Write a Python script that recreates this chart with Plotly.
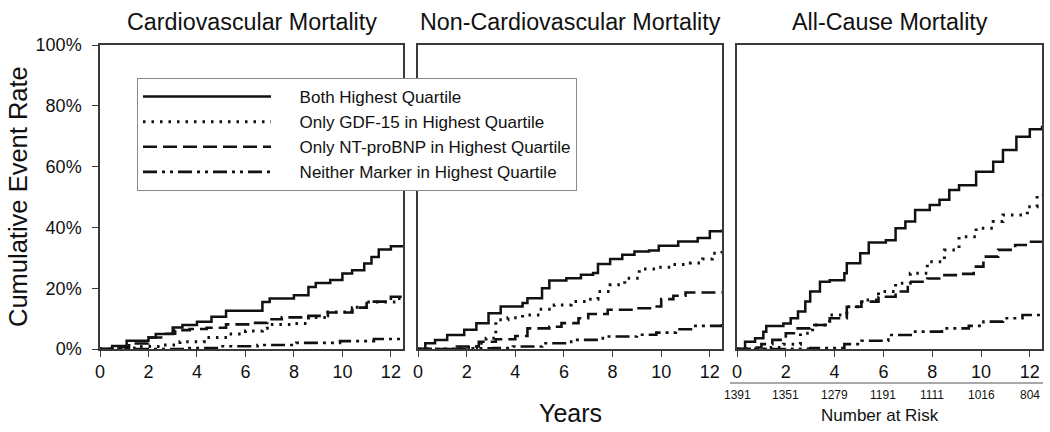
import plotly.graph_objects as go

# ---------------- data ----------------
series_names = ["Both Highest Quartile", "Only GDF-15 in Highest Quartile",
                "Only NT-proBNP in Highest Quartile", "Neither Marker in Highest Quartile"]
panel_titles = ["Cardiovascular Mortality", "Non-Cardiovascular Mortality", "All-Cause Mortality"]

# Panel 1: Cardiovascular mortality (years, cumulative %)
cv_both_t = [0, 0.5, 1.1, 2.0, 2.3, 3.0, 3.4, 4.0, 4.6, 5.2, 6.7, 7.0, 8.0, 8.6, 8.9, 9.5, 10.0, 10.4, 10.9, 11.2, 11.5, 12.0, 12.5]
cv_both_v = [0, 1.0, 2.7, 3.8, 4.9, 7.1, 7.9, 9.0, 10.6, 12.6, 15.5, 16.6, 17.7, 20.4, 21.7, 22.7, 24.8, 25.9, 28.1, 30.3, 32.7, 33.8, 33.8]
cv_gdf_t = [0, 0.8, 1.5, 2.5, 3.3, 4.3, 5.3, 6.0, 6.7, 6.9, 8.0, 8.6, 9.4, 10.4, 11.0, 12.2, 12.45, 12.5]
cv_gdf_v = [0, 0.3, 0.8, 1.3, 2.4, 3.8, 4.9, 5.9, 6.8, 8.1, 8.4, 10.4, 12.2, 13.7, 15.5, 16.6, 17.4, 17.4]
cv_nt_t = [0, 0.6, 1.2, 2.0, 2.6, 3.1, 3.7, 4.4, 5.2, 6.4, 6.9, 7.5, 8.6, 9.4, 10.4, 11.0, 12.0, 12.5]
cv_nt_v = [0, 0.6, 1.8, 3.8, 5.0, 6.2, 6.6, 7.0, 8.1, 8.6, 9.8, 10.4, 10.9, 12.0, 13.6, 15.6, 17.2, 17.5]
cv_nei_t = [0, 3.5, 5.0, 6.5, 8.1, 9.9, 11.3, 12.5]
cv_nei_v = [0, 0.3, 0.9, 1.3, 2.0, 2.6, 3.3, 3.5]

# Panel 2: Non-cardiovascular mortality
ncv_both_t = [0, 0.3, 0.7, 1.2, 1.9, 2.4, 2.9, 3.4, 4.3, 4.5, 5.1, 5.4, 6.1, 6.7, 7.2, 7.4, 7.9, 8.4, 8.9, 9.5, 9.9, 10.7, 11.5, 12.0, 12.5]
ncv_both_v = [0, 1.9, 3.0, 4.6, 6.3, 8.5, 11.8, 14.0, 15.1, 16.7, 20.0, 22.5, 23.3, 24.4, 25.0, 28.0, 29.6, 31.0, 32.1, 32.4, 34.0, 35.4, 36.5, 38.7, 39.3]
ncv_gdf_t = [0, 1.5, 2.4, 2.8, 3.2, 3.7, 4.3, 5.0, 5.6, 6.3, 6.9, 7.4, 7.9, 8.5, 9.1, 9.8, 10.4, 11.2, 11.7, 12.1, 12.5]
ncv_gdf_v = [0, 0.5, 1.9, 3.5, 9.6, 10.3, 11.2, 13.1, 14.5, 15.6, 16.4, 18.9, 21.1, 23.3, 26.3, 26.9, 27.8, 28.3, 29.6, 31.5, 33.2]
ncv_nt_t = [0, 1.5, 2.5, 3.2, 4.0, 4.5, 5.4, 5.9, 6.6, 7.0, 7.8, 8.9, 9.7, 10.0, 10.5, 11.0, 12.5]
ncv_nt_v = [0, 0.8, 2.4, 3.2, 4.3, 6.8, 7.3, 8.5, 10.1, 11.5, 12.9, 13.4, 14.0, 16.4, 17.5, 18.6, 18.6]
ncv_nei_t = [0, 2.0, 3.1, 3.9, 5.1, 6.3, 7.6, 9.0, 9.8, 10.6, 11.4, 12.5]
ncv_nei_v = [0, 0.2, 0.3, 0.8, 1.9, 3.0, 4.1, 4.7, 5.4, 6.5, 7.6, 8.5]

# Panel 3: All-cause mortality
all_both_t = [0, 0.33, 0.74, 1.08, 1.2, 1.9, 2.2, 2.5, 2.8, 3.0, 3.4, 3.8, 4.4, 4.5, 5.05, 5.4, 6.1, 6.5, 6.9, 7.3,
              7.9, 8.3, 8.7, 9.1, 9.8, 10.5, 10.9, 11.45, 12.0, 12.5]
all_both_v = [0, 2.4, 3.5, 5.7, 7.6, 8.4, 10.1, 12.3, 15.6, 18.9, 22.1, 22.6, 24.9, 28.2, 31.5, 35.0, 35.8, 39.7, 41.9, 45.7,
              47.4, 49.1, 52.3, 53.9, 58.3, 61.6, 65.5, 69.8, 72.3, 73.4]
all_gdf_t = [0, 1.4, 1.9, 2.6, 3.1, 3.8, 4.5, 5.1, 5.8, 6.5, 7.1, 7.8, 8.5, 9.1, 9.8, 10.5, 10.9, 11.9, 12.3, 12.5]
all_gdf_v = [0, 0.5, 1.6, 5.2, 7.9, 11.2, 13.9, 16.1, 18.9, 21.6, 24.9, 28.7, 32.6, 36.9, 39.7, 41.9, 44.1, 46.8, 50.7, 50.7]
all_nt_t = [0, 0.7, 1.0, 1.45, 2.0, 2.4, 3.0, 3.8, 4.5, 5.1, 5.8, 6.5, 7.0, 7.8, 8.5, 9.1, 9.7, 10.1, 10.7, 11.4, 11.9, 12.5]
all_nt_v = [0, 0.5, 1.6, 3.0, 5.2, 6.8, 7.9, 10.1, 13.9, 15.6, 17.2, 18.9, 22.1, 23.2, 24.3, 24.7, 27.1, 30.4, 32.6, 34.2, 35.3, 35.3]
all_nei_t = [0, 2.0, 3.0, 4.4, 5.1, 6.2, 7.3, 8.4, 9.5, 10.1, 10.9, 11.7, 12.5]
all_nei_v = [0, 0.1, 0.3, 1.6, 2.7, 4.6, 5.7, 6.8, 7.6, 9.0, 10.1, 11.2, 11.9]

# Number at risk (all-cause panel)
risk_years = [0, 2, 4, 6, 8, 10, 12]
risk_counts = [1391, 1351, 1279, 1191, 1111, 1016, 804]

x_ticks = [0, 2, 4, 6, 8, 10, 12]
y_ticks = [0, 20, 40, 60, 80, 100]
y_tick_text = ["0%", "20%", "40%", "60%", "80%", "100%"]

# ---------------- figure ----------------
FONT = "Arial, Liberation Sans, Helvetica, sans-serif"
INK = "#111111"
AXC = "#3a3a3a"
dashes = ["solid", "2.5px,6px", "14px,6px", "14px,5px,3px,5px,3px,5px"]
widths = [2.5, 3, 2.6, 2.6]
LEG_PAD = "\u00a0" * 5

panels = [
    [(cv_both_t, cv_both_v), (cv_gdf_t, cv_gdf_v), (cv_nt_t, cv_nt_v), (cv_nei_t, cv_nei_v)],
    [(ncv_both_t, ncv_both_v), (ncv_gdf_t, ncv_gdf_v), (ncv_nt_t, ncv_nt_v), (ncv_nei_t, ncv_nei_v)],
    [(all_both_t, all_both_v), (all_gdf_t, all_gdf_v), (all_nt_t, all_nt_v), (all_nei_t, all_nei_v)],
]

W, H = 1050, 432
x_doms = [(100 / W, 403 / W), (418 / W, 722 / W), (737 / W, 1042 / W)]
y_dom = (1 - 349 / H, 1 - 45 / H)

fig = go.Figure()
for p, series in enumerate(panels):
    xa = "x" if p == 0 else f"x{p+1}"
    ya = "y" if p == 0 else f"y{p+1}"
    for s, (t, v) in enumerate(series):
        fig.add_trace(go.Scatter(
            x=t, y=v, mode="lines", line_shape="hv",
            line=dict(color=INK, width=widths[s], dash=dashes[s]),
            name=LEG_PAD + series_names[s], showlegend=(p == 0),
            xaxis=xa, yaxis=ya, hoverinfo="skip"))

layout = dict(
    template="none",
    width=W, height=H, autosize=False,
    margin=dict(l=0, r=0, t=0, b=0, pad=0),
    paper_bgcolor="white", plot_bgcolor="white",
    font=dict(family=FONT, color=INK, size=18),
    showlegend=True,
    legend=dict(
        x=137 / W, y=1 - 78 / H, xanchor="left", yanchor="top",
        bgcolor="white", bordercolor="#8a8a8a", borderwidth=1,
        font=dict(size=17, family=FONT, color=INK),
        itemwidth=128, tracegroupgap=0, traceorder="normal",
    ),
)
for p in range(3):
    xk = "xaxis" if p == 0 else f"xaxis{p+1}"
    yk = "yaxis" if p == 0 else f"yaxis{p+1}"
    ya = "y" if p == 0 else f"y{p+1}"
    xa = "x" if p == 0 else f"x{p+1}"
    layout[xk] = dict(
        domain=list(x_doms[p]), anchor=ya, range=[0, 12.5], automargin=False,
        tickmode="array", tickvals=x_ticks, ticks="outside", ticklen=6, tickwidth=1.3, tickcolor=AXC,
        showline=True, linecolor=AXC, linewidth=1.5, mirror=True,
        showgrid=False, zeroline=False, tickfont=dict(size=18, color=INK),
        fixedrange=True,
    )
    layout[yk] = dict(
        domain=list(y_dom), anchor=xa, range=[0, 100], automargin=False,
        tickmode="array", tickvals=y_ticks, ticktext=y_tick_text,
        ticks="outside" if p == 0 else "", ticklen=6, tickwidth=1.3, tickcolor=AXC,
        ticklabelstandoff=7,
        showticklabels=(p == 0),
        showline=True, linecolor=AXC, linewidth=1.5, mirror=True,
        showgrid=False, zeroline=False, tickfont=dict(size=18, color=INK),
        fixedrange=True,
    )
fig.update_layout(**layout)

# panel titles
title_x = [(x_doms[i][0] + x_doms[i][1]) / 2 for i in range(3)]
for i, ttl in enumerate(panel_titles):
    fig.add_annotation(text=ttl, x=title_x[i], y=1 - 22 / H, xref="paper", yref="paper",
                       showarrow=False, font=dict(size=23.3, color=INK), xanchor="center", yanchor="middle")

# axis titles
fig.add_annotation(text="Cumulative Event Rate", x=18 / W, y=1 - 197 / H, xref="paper", yref="paper",
                   textangle=-90, showarrow=False, font=dict(size=25.5, color=INK),
                   xanchor="center", yanchor="middle")
fig.add_annotation(text="Years", x=570 / W, y=1 - 413 / H, xref="paper", yref="paper",
                   showarrow=False, font=dict(size=25, color=INK), xanchor="center", yanchor="middle")

# number at risk
fig.add_shape(type="line", xref="paper", yref="paper", x0=730 / W, x1=1043 / W,
              y0=1 - 383 / H, y1=1 - 383 / H, line=dict(color="#555555", width=1.2))
for yr, n in zip(risk_years, risk_counts):
    fig.add_annotation(text=str(n), x=yr, xref="x3", y=1 - 395 / H, yref="paper",
                       showarrow=False, font=dict(size=12, color=INK), xanchor="center", yanchor="middle")
fig.add_annotation(text="Number at Risk", x=880 / W, y=1 - 415 / H, xref="paper", yref="paper",
                   showarrow=False, font=dict(size=17, color=INK), xanchor="center", yanchor="middle")

fig.write_html("out.html", config={"responsive": False, "displayModeBar": False},
               post_script="document.body.style.margin='0';")
